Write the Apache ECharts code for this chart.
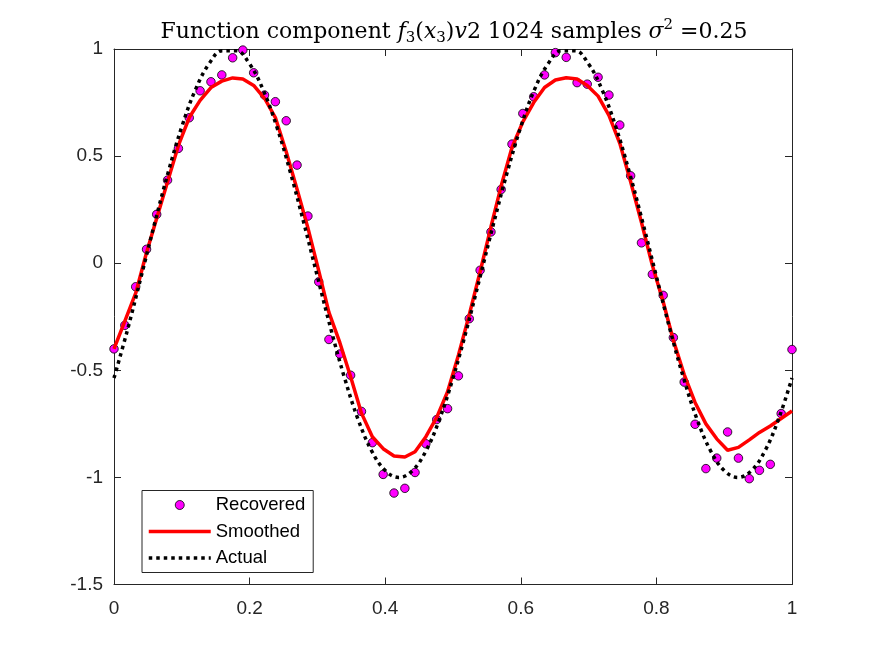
<!DOCTYPE html>
<html>
<head>
<meta charset="utf-8">
<title>Function component</title>
<script src="https://cdn.jsdelivr.net/npm/echarts@6/dist/echarts.min.js"></script>
<style>
html, body { margin: 0; padding: 0; background: #fff; }
#chart { width: 875px; height: 656px; }
</style>
</head>
<body>
<div id="chart"></div>
<script>
// sample positions (64 samples on [0,1])
var sampleX = [0, 0.016, 0.032, 0.048, 0.063, 0.079, 0.095, 0.111, 0.127, 0.143,
	0.159, 0.175, 0.190, 0.206, 0.222, 0.238, 0.254, 0.270, 0.286, 0.302,
	0.317, 0.333, 0.349, 0.365, 0.381, 0.397, 0.413, 0.429, 0.444, 0.460,
	0.476, 0.492, 0.508, 0.524, 0.540, 0.556, 0.571, 0.587, 0.603, 0.619,
	0.635, 0.651, 0.667, 0.683, 0.698, 0.714, 0.730, 0.746, 0.762, 0.778,
	0.794, 0.810, 0.825, 0.841, 0.857, 0.873, 0.889, 0.905, 0.921, 0.937,
	0.952, 0.968, 0.984, 1];
var recovered = [-0.40, -0.29, -0.11, 0.065, 0.228, 0.388, 0.536, 0.679, 0.805, 0.847,
	0.879, 0.959, 0.995, 0.889, 0.785, 0.754, 0.665, 0.458, 0.220, -0.087,
	-0.356, -0.424, -0.523, -0.692, -0.838, -0.986, -1.073, -1.051, -0.977, -0.843,
	-0.73, -0.679, -0.526, -0.259, -0.033, 0.146, 0.344, 0.556, 0.699, 0.777,
	0.879, 0.983, 0.961, 0.843, 0.836, 0.868, 0.785, 0.645, 0.408, 0.095,
	-0.052, -0.150, -0.347, -0.555, -0.752, -0.959, -0.910, -0.788, -0.910, -1.006,
	-0.967, -0.939, -0.702, -0.403];
var smoothed = [-0.40, -0.27, -0.14, 0.05, 0.21, 0.38, 0.55, 0.68, 0.76, 0.82,
	0.85, 0.865, 0.86, 0.83, 0.77, 0.68, 0.52, 0.345, 0.165, -0.036,
	-0.23, -0.37, -0.53, -0.70, -0.81, -0.866, -0.90, -0.905, -0.88, -0.81,
	-0.72, -0.60, -0.43, -0.24, -0.04, 0.17, 0.36, 0.54, 0.66, 0.75,
	0.82, 0.855, 0.866, 0.86, 0.83, 0.78, 0.69, 0.56, 0.38, 0.19,
	-0.01, -0.18, -0.36, -0.52, -0.65, -0.75, -0.82, -0.873, -0.86, -0.825,
	-0.79, -0.76, -0.725, -0.69];
// actual curve, read every 0.02
var actualX = [0, 0.02, 0.04, 0.06, 0.08, 0.10, 0.12, 0.14, 0.16, 0.18,
	0.20, 0.22, 0.24, 0.26, 0.28, 0.30, 0.32, 0.34, 0.36, 0.38,
	0.40, 0.42, 0.44, 0.46, 0.48, 0.50, 0.52, 0.54, 0.56, 0.58,
	0.60, 0.62, 0.64, 0.66, 0.68, 0.70, 0.72, 0.74, 0.76, 0.78,
	0.80, 0.82, 0.84, 0.86, 0.88, 0.90, 0.92, 0.94, 0.96, 0.98, 1];
var actual = [-0.536, -0.31, -0.063, 0.187, 0.425, 0.637, 0.809, 0.930, 0.992, 0.992,
	0.930, 0.809, 0.638, 0.426, 0.188, -0.062, -0.309, -0.535, -0.729, -0.876,
	-0.968, -1.000, -0.969, -0.877, -0.729, -0.536, -0.31, -0.063, 0.187, 0.425,
	0.637, 0.809, 0.930, 0.992, 0.992, 0.930, 0.809, 0.638, 0.426, 0.188,
	-0.062, -0.309, -0.535, -0.729, -0.876, -0.968, -1.000, -0.969, -0.877, -0.729, -0.536];
var xTicks = [0, 0.2, 0.4, 0.6, 0.8, 1];
var yTicks = [-1.5, -1, -0.5, 0, 0.5, 1];
var seriesNames = ['Recovered', 'Smoothed', 'Actual'];

function pairs(xs, ys) {
	var out = [];
	for (var i = 0; i < xs.length; i++) {
		out.push([xs[i], ys[i]]);
	}
	return out;
}

var axisColor = '#262626';
var sansFont = '"Liberation Sans", Arial, Helvetica, sans-serif';
var serifFont = '"DejaVu Serif", "Liberation Serif", serif';

function frameAxis(pos, isX, showLabel) {
	var ax = {
		type : 'value',
		position : pos,
		min : isX ? xTicks[0] : yTicks[0],
		max : isX ? xTicks[xTicks.length - 1] : yTicks[yTicks.length - 1],
		interval : isX ? 0.2 : 0.5,
		axisLine : { show : true, onZero : false, lineStyle : { color : axisColor, width : 1 } },
		axisTick : { show : true, inside : true, length : 7, lineStyle : { color : axisColor, width : 1 } },
		splitLine : { show : false },
		axisLabel : {
			show : showLabel,
			color : axisColor,
			fontSize : 19,
			fontFamily : sansFont,
			margin : isX ? 15 : 11,
			formatter : function(v) { return String(Math.round(v * 10) / 10); }
		}
	};
	return ax;
}

var chart = echarts.init(document.getElementById('chart'), null, { renderer : 'canvas' });
var option = {
	backgroundColor : '#ffffff',
	animation : false,
	title : {
		left : 449,
		textAlign : 'center',
		top : 13,
		text : '{r|Function component }{i|f}{s|3}{r|(}{i|x}{s|3}{r|)}{i|v}{r|2 1024 samples }{i|σ}{p|2}{r| =0.25}',
		textStyle : {
			fontFamily : serifFont,
			fontSize : 22,
			fontWeight : 'normal',
			color : '#000',
			rich : {
				r : { fontFamily : serifFont, fontSize : 22, color : '#000', lineHeight : 28 },
				i : { fontFamily : serifFont, fontSize : 22, fontStyle : 'italic', color : '#000', lineHeight : 28 },
				s : { fontFamily : serifFont, fontSize : 15, color : '#000', verticalAlign : 'bottom', lineHeight : 28 },
				p : { fontFamily : serifFont, fontSize : 15, color : '#000', verticalAlign : 'top', lineHeight : 22 }
			}
		}
	},
	grid : {
		left : 114,
		right : 83,
		top : 49,
		bottom : 71.5,
		containLabel : false
	},
	legend : {
		orient : 'vertical',
		left : 142,
		top : 490.5,
		itemWidth : 62,
		itemHeight : 9,
		itemGap : 6.5,
		padding : [4.5, 8, 4.5, 5],
		borderColor : axisColor,
		borderWidth : 1,
		backgroundColor : '#fff',
		lineStyle : { width : 'inherit' },
		textStyle : { fontSize : 18.5, fontFamily : sansFont, color : '#000', lineHeight : 20 },
		data : [
			{ name : seriesNames[0], itemStyle : { color : '#ff00ff', borderColor : '#000', borderWidth : 0.8 } },
			{ name : seriesNames[1], itemStyle : { opacity : 0 } },
			{ name : seriesNames[2], itemStyle : { opacity : 0 } }
		]
	},
	xAxis : [ frameAxis('bottom', true, true), frameAxis('top', true, false) ],
	yAxis : [ frameAxis('left', false, true), frameAxis('right', false, false) ],
	series : [ {
		name : seriesNames[0],
		type : 'scatter',
		xAxisIndex : 0,
		yAxisIndex : 0,
		symbol : 'circle',
		symbolSize : 8.5,
		itemStyle : { color : '#ff00ff', borderColor : '#000', borderWidth : 0.8, opacity : 1 },
		data : pairs(sampleX, recovered)
	}, {
		name : seriesNames[1],
		type : 'line',
		xAxisIndex : 0,
		yAxisIndex : 0,
		symbol : 'none',
		showSymbol : false,
		lineStyle : { color : '#ff0000', width : 3.5 },
		itemStyle : { color : '#ff0000' },
		data : pairs(sampleX, smoothed)
	}, {
		name : seriesNames[2],
		type : 'line',
		xAxisIndex : 0,
		yAxisIndex : 0,
		symbol : 'none',
		showSymbol : false,
		smooth : 0.4,
		lineStyle : { color : '#000', width : 3.5, type : [3.5, 4], cap : 'butt' },
		itemStyle : { color : '#000' },
		data : pairs(actualX, actual)
	} ]
};
chart.setOption(option);
window.addEventListener('resize', chart.resize);
</script>
</body>
</html>
